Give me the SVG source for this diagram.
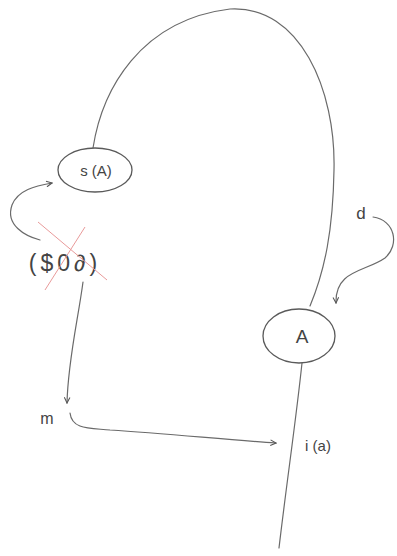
<svg xmlns="http://www.w3.org/2000/svg" width="397" height="556" viewBox="0 0 397 556">
<style>
.ln{fill:none;stroke:#6a6a6a;stroke-width:1.2;stroke-linecap:round}
.nd{fill:#fff;stroke:#5a5a5a;stroke-width:1.3}
.tx{font-family:"Liberation Sans",sans-serif;fill:#444}
.red{stroke:#e89a9a;stroke-width:1;fill:none}
</style>
<defs>
<marker id="ah" viewBox="0 0 10 10" refX="9" refY="5" markerWidth="7" markerHeight="7" orient="auto-start-reverse" markerUnits="userSpaceOnUse">
<path d="M1,1 L9,5 L1,9" fill="none" stroke="#555" stroke-width="1.5"/>
</marker>
</defs>
<g id="connectors">
<path class="ln" d="M93,148 C102,90 140,20 230,9 C300,5 336,90 334,170 C333,230 325,270 310,306"/>
<path class="ln" d="M302,363 C296,420 287,480 279,548"/>
<path class="ln" d="M373,217 C395,220 400,245 385,258 C365,272 335,270 336,303" marker-end="url(#ah)"/>
<path class="ln" d="M40,240 C25,236 5,225 12,205 C18,190 35,186 52,183" marker-end="url(#ah)"/>
<path class="ln" d="M83,282 C78,320 68,360 67,403" marker-end="url(#ah)"/>
<path class="ln" d="M70,413 C72,430 90,428 110,430 C170,434 230,440 276,443" marker-end="url(#ah)"/>
</g>
<g id="sA">
<ellipse class="nd" cx="95" cy="170" rx="37" ry="22"/>
<text class="tx" x="96" y="176" font-size="15" text-anchor="middle">s (A)</text>
</g>
<g id="A">
<ellipse class="nd" cx="299" cy="336" rx="36" ry="27"/>
<text class="tx" x="302" y="343" font-size="19" text-anchor="middle">A</text>
</g>
<g id="d">
<text class="tx" x="361" y="219" font-size="17" text-anchor="middle">d</text>
</g>
<g id="term">
<text class="tx" x="65" y="271" font-size="23" letter-spacing="4" text-anchor="middle">($0∂)</text>
<line class="red" x1="38" y1="222" x2="107" y2="280"/>
<line class="red" x1="85" y1="227" x2="45" y2="290"/>
</g>
<g id="m">
<text class="tx" x="47" y="424" font-size="16" text-anchor="middle">m</text>
</g>
<g id="ia">
<text class="tx" x="318" y="451" font-size="15" text-anchor="middle">i (a)</text>
</g>
</svg>
